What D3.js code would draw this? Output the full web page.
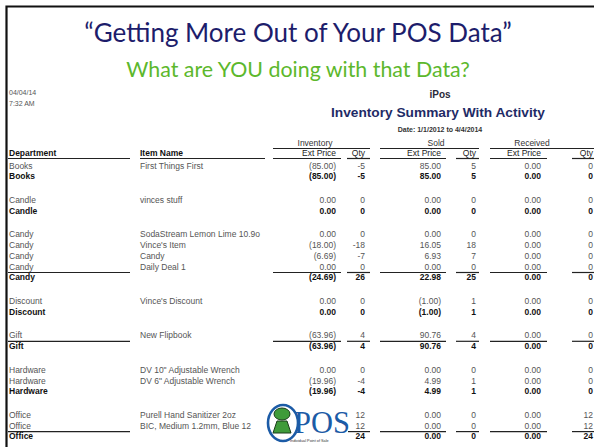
<!DOCTYPE html>
<html><head><meta charset="utf-8">
<script src="https://cdn.jsdelivr.net/npm/d3@7"></script>
<style>html,body{margin:0;padding:0;background:#fff;}svg{display:block;}</style>
</head><body>
<script>
// ---------------- data ----------------
const slideTitle = "\u201CGetting More Out of Your POS Data\u201D";
const slideSubtitle = "What are YOU doing with that Data?";
const printDate = "04/04/14";
const printTime = "7:32 AM";
const reportApp = "iPos";
const reportTitle = "Inventory Summary With Activity";
const reportRange = "Date: 1/1/2012 to 4/4/2014";
const groupLabels = ["Inventory", "Sold", "Received"];
const columnHeaders = ["Department", "Item Name", "Ext Price", "Qty", "Ext Price", "Qty", "Ext Price", "Qty"];

const departments = ["Books", "Candle", "Candy", "Discount", "Gift", "Hardware", "Office"];
const ruledDepartments = ["Candy", "Gift", "Office"];

const itemDepartments = ["Books", "Candle", "Candy", "Candy", "Candy", "Candy", "Discount", "Gift", "Hardware", "Hardware", "Office", "Office"];
const itemNames = ["First Things First", "vinces stuff", "SodaStream Lemon Lime 10.9o", "Vince's Item", "Candy", "Daily Deal 1", "Vince's Discount", "New Flipbook", "DV 10\" Adjustable Wrench", "DV 6\" Adjustable Wrench", "Purell Hand Sanitizer 2oz", "BIC, Medium 1.2mm, Blue 12"];
// Office ext prices are hidden behind the logo in the source (unreadable)
const itemInvExt = ["(85.00)", "0.00", "0.00", "(18.00)", "(6.69)", "0.00", "0.00", "(63.96)", "0.00", "(19.96)", "", ""];
const itemInvQty = ["-5", "0", "0", "-18", "-7", "0", "0", "4", "0", "-4", "12", "12"];
const itemSoldExt = ["85.00", "0.00", "0.00", "16.05", "6.93", "0.00", "(1.00)", "90.76", "0.00", "4.99", "0.00", "0.00"];
const itemSoldQty = ["5", "0", "0", "18", "7", "0", "1", "4", "0", "1", "0", "0"];
const itemRecExt = ["0.00", "0.00", "0.00", "0.00", "0.00", "0.00", "0.00", "0.00", "0.00", "0.00", "0.00", "0.00"];
const itemRecQty = ["0", "0", "0", "0", "0", "0", "0", "0", "0", "0", "12", "12"];

const totalInvExt = ["(85.00)", "0.00", "(24.69)", "0.00", "(63.96)", "(19.96)", ""];
const totalInvQty = ["-5", "0", "26", "0", "4", "-4", "24"];
const totalSoldExt = ["85.00", "0.00", "22.98", "(1.00)", "90.76", "4.99", "0.00"];
const totalSoldQty = ["5", "0", "25", "1", "4", "1", "0"];
const totalRecExt = ["0.00", "0.00", "0.00", "0.00", "0.00", "0.00", "0.00"];
const totalRecQty = ["0", "0", "0", "0", "0", "0", "24"];

// ---------------- layout ----------------
const W = 594, H = 447;
const svg = d3.select("body").append("svg").attr("width", W).attr("height", H);
svg.append("rect").attr("width", W).attr("height", H).attr("fill", "#fff");

// slide frame
svg.append("path").attr("d", `M6.5,${H} V6.5 H${W}`).attr("fill", "none").attr("stroke", "#111").attr("stroke-width", 2.2);

function fitText(sel, width) {
  const len = sel.node().getComputedTextLength();
  const fs = parseFloat(sel.attr("font-size"));
  sel.attr("font-size", fs * width / len);
}
const t1 = svg.append("text").attr("x", 298).attr("y", 42).attr("text-anchor", "middle")
  .attr("font-family", "Lato, 'Open Sans', sans-serif").attr("font-size", 24).attr("fill", "#1d1d6b").text(slideTitle);
fitText(t1, 428);
const t2 = svg.append("text").attr("x", 298).attr("y", 77).attr("text-anchor", "middle")
  .attr("font-family", "Lato, 'Open Sans', sans-serif").attr("font-size", 18).attr("fill", "#5cb82c").text(slideSubtitle);
fitText(t2, 344);

const rep = svg.append("g").attr("font-family", "'Liberation Sans', Arial, sans-serif");
const FS = 8.5;

rep.append("text").attr("x", 9).attr("y", 95).attr("font-size", 7).attr("fill", "#555").text(printDate);
rep.append("text").attr("x", 9).attr("y", 106).attr("font-size", 7).attr("fill", "#555").text(printTime);
rep.append("text").attr("x", 440).attr("y", 98).attr("text-anchor", "middle").attr("font-size", 10).attr("font-weight", "bold").attr("fill", "#2a2a3a").text(reportApp);
const rt = rep.append("text").attr("x", 438).attr("y", 117).attr("text-anchor", "middle").attr("font-size", 13).attr("font-weight", "bold").attr("fill", "#1f2b66").text(reportTitle);
fitText(rt, 214);
rep.append("text").attr("x", 440).attr("y", 132).attr("text-anchor", "middle").attr("font-size", 7).attr("font-weight", "bold").attr("fill", "#333").text(reportRange);

// columns
const colX = [9, 140, 336, 365, 441, 476, 541, 593];
const colAnchor = ["start", "start", "end", "end", "end", "end", "end", "end"];
const colLine = [[8, 130], [140, 265], [273, 341], [347, 370], [380, 446], [456, 479], [490, 547], [572, 594]];
const groupLine = [[273, 370], [380, 479], [490, 594]];
const groupCenter = [315, 436, 532];

// group header
groupLabels.forEach((g, i) => {
  rep.append("text").attr("x", groupCenter[i]).attr("y", 146).attr("text-anchor", "middle").attr("font-size", FS).attr("fill", "#333").text(g);
  rep.append("line").attr("x1", groupLine[i][0]).attr("x2", groupLine[i][1]).attr("y1", 148.5).attr("y2", 148.5).attr("stroke", "#222").attr("stroke-width", 1.2);
});
columnHeaders.forEach((h, i) => {
  rep.append("text").attr("x", colX[i]).attr("y", 156).attr("text-anchor", colAnchor[i]).attr("font-size", FS)
    .attr("font-weight", i < 2 ? "bold" : "normal").attr("fill", i < 2 ? "#111" : "#222").text(h);
  rep.append("line").attr("x1", colLine[i][0]).attr("x2", colLine[i][1]).attr("y1", 158.5).attr("y2", 158.5).attr("stroke", "#222").attr("stroke-width", 1.2);
});

// build rows
const rows = [];
let slot = 0;
const gapUnits = 2.2;
departments.forEach((dep, di) => {
  itemDepartments.forEach((d, ii) => {
    if (d !== dep) return;
    rows.push({ slot, total: false, cells: [d, itemNames[ii], itemInvExt[ii], itemInvQty[ii], itemSoldExt[ii], itemSoldQty[ii], itemRecExt[ii], itemRecQty[ii]] });
    slot += 1;
  });
  rows.push({ slot, total: true, dep, cells: [dep, "", totalInvExt[di], totalInvQty[di], totalSoldExt[di], totalSoldQty[di], totalRecExt[di], totalRecQty[di]] });
  slot += gapUnits;
});

const y = d3.scaleLinear().domain([0, 1]).range([168.5, 179.25]);

const rowG = rep.selectAll("g.row").data(rows).join("g").attr("class", "row")
  .attr("transform", d => `translate(0,${y(d.slot)})`);
rowG.selectAll("text").data(d => d.cells.map((c, i) => ({ c, i, total: d.total })).filter(e => e.c !== "")).join("text")
  .attr("x", d => colX[d.i]).attr("text-anchor", d => colAnchor[d.i])
  .attr("font-size", FS).attr("font-weight", d => d.total ? "bold" : "normal")
  .attr("fill", d => d.total ? "#111" : "#555").text(d => d.c);

// rule lines above selected totals
rowG.filter(d => d.total && ruledDepartments.includes(d.dep)).each(function () {
  const g = d3.select(this);
  colLine.forEach((seg, i) => {
    if (i === 1) return;
    g.append("line").attr("x1", seg[0]).attr("x2", seg[1]).attr("y1", -7.8).attr("y2", -7.8).attr("stroke", "#222").attr("stroke-width", 1.2);
  });
});

// ---------------- logo ----------------
const logo = svg.append("g");
logo.append("rect").attr("x", 268).attr("y", 401).attr("width", 80).attr("height", 46).attr("fill", "#fff");
logo.append("ellipse").attr("cx", 283).attr("cy", 423).attr("rx", 15).attr("ry", 18).attr("fill", "#fff").attr("stroke", "#1c5ba6").attr("stroke-width", 2.6);
logo.append("ellipse").attr("cx", 282).attr("cy", 414).attr("rx", 8).attr("ry", 6).attr("fill", "#3f9b3a").attr("stroke", "#1b3d1b").attr("stroke-width", 1);
logo.append("path").attr("d", "M277,421 L287,421 L291,433 L273,433 Z").attr("fill", "#3f9b3a").attr("stroke", "#1b3d1b").attr("stroke-width", 1);
logo.append("text").attr("x", 294).attr("y", 433).attr("font-family", "'Liberation Serif', 'DejaVu Serif', serif")
  .attr("font-size", 30.5).attr("fill", "#1c5ba6").text("POS");
logo.append("text").attr("x", 290).attr("y", 442).attr("font-family", "'Liberation Sans', Arial, sans-serif")
  .attr("font-size", 3.8).attr("fill", "#333").text("Individual Point of Sale");
</script>
</body></html>
